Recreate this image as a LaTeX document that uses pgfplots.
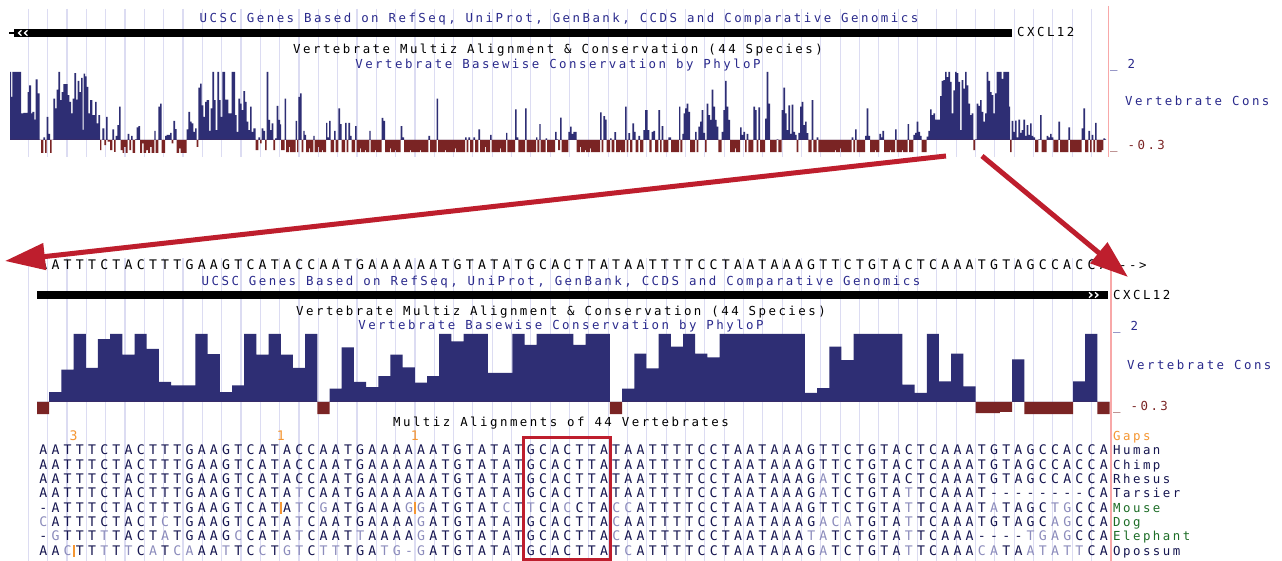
\documentclass[border=0pt]{standalone}
\usepackage{pgfplots}
\pgfplotsset{compat=1.18}
\usepackage{pgfplotstable}
\usepackage{fontspec}
\usetikzlibrary{arrows.meta}
\setmainfont{DejaVu Sans}
\newfontfamily\ucsc[LetterSpace=20]{DejaVu Sans Mono}
\newfontfamily\ucscm{DejaVu Sans Mono}
\newcommand\uf{\fontsize{12.4bp}{14bp}\ucsc}
\newcommand\rf{\fontsize{13.2bp}{14bp}\ucscm}
\definecolor{ucscblue}{RGB}{42,42,140}
\definecolor{barblue}{RGB}{46,46,116}
\definecolor{barbrown}{RGB}{122,36,36}
\definecolor{gridc}{RGB}{220,220,242}
\definecolor{pinkc}{RGB}{248,168,168}
\definecolor{arrowred}{RGB}{190,30,45}
\definecolor{gapor}{RGB}{245,150,50}
\definecolor{greenl}{RGB}{30,110,40}
\definecolor{rowc}{RGB}{22,22,80}
\definecolor{mism}{RGB}{140,140,188}

\makeatletter
\newlength\cw \setlength\cw{12.19bp}
\def\seqrow#1{\seq@i#1\relax}
\def\seq@i#1{\ifx#1\relax\else\seq@c#1\expandafter\seq@i\fi}
\def\seq@c#1{%
  \ifx#1|\makebox[0pt]{\textcolor{gapor}{\rule[-1.5bp]{1.8bp}{11.5bp}}}%
  \else\ifx#1_\makebox[\cw]{\textcolor{mism}{-}}%
  \else\ifnum`#1>96 \makebox[\cw]{\textcolor{mism}{\uppercase{#1}}}%
  \else\makebox[\cw]{#1}\fi\fi\fi}
\makeatother

\pgfplotstableread{
x v
10.0 2.0
11.0 1.27
12.3 2.0
21.0 0.78
23.3 0.80
27.7 1.41
29.0 1.61
31.0 0.78
32.3 0.83
34.3 0.60
35.7 1.78
37.7 1.37
39.7 0
41.0 -0.38
43.3 0.08
45.0 -0.38
46.7 0.68
48.3 0.18
50.0 -0.38
51.7 0
53.3 1.22
55.0 0.93
56.7 1.48
58.3 2.0
60.0 1.17
61.7 1.41
63.3 1.64
67.7 1.32
69.3 1.12
71.0 0.78
72.7 1.22
74.3 1.97
76.0 1.19
77.7 1.74
79.3 1.41
81.0 1.83
82.7 0.3
83.7 1.95
85.0 1.87
86.7 1.56
88.3 0.78
90.0 1.17
92.3 0.73
95.0 1.12
96.7 0.49
98.3 0.73
100.0 -0.3
101.3 0
102.3 0.34
104.3 -0.15
106.0 0.68
107.7 -0.05
110.0 -0.3
112.3 0.31
114.0 -0.35
115.7 0.12
117.3 0.44
119.0 0.98
120.7 -0.3
122.5 -0.38
124 -0.2
125.7 -0.38
127.7 0.18
129.3 -0.3
131.0 0.12
132.7 -0.38
135.0 0.02
136.7 0.37
138.3 0.41
140.0 -0.38
142 -0.1
143.5 -0.38
146 -0.3
148 -0.38
150 -0.2
151.5 -0.38
154.3 0.27
155.7 -0.38
158.3 0.98
160.0 1.07
161.7 -0.38
165.0 0.12
166.7 0.15
170.0 0.21
171.7 -0.1
173.3 0.56
175.0 0.32
176.7 -0.38
179 -0.25
180.5 -0.38
186.7 0.31
188.3 0.83
190.0 0.54
191.7 0.49
193.3 0.24
195.0 0.34
196.7 -0.2
198.3 1.54
200.0 1.66
201.7 1.02
203.3 0.68
205.0 1.12
206.7 1.17
209.0 0.27
210.7 0.93
212.3 2.0
214.0 1.17
215.7 0.29
217.3 2.0
219.0 1.17
220.7 0.68
222.3 2.0
225.0 1.19
228.3 0.78
231.7 2.0
235.0 0.73
236.7 0.24
238.3 1.22
240.0 1.07
241.7 0.88
243.3 1.44
245.0 1.12
246.7 0.54
248.3 0.29
250.0 0.98
251.7 0.24
253.3 0.34
255.7 -0.3
258.3 0.08
260.0 -0.1
261.7 0.34
263.3 0.27
265.0 -0.3
266.7 2.0
268.3 0.59
270.0 0.29
271.7 0.49
273.3 -0.3
275.0 0.05
276.7 1.0
278.3 0.59
280 0.46
281 -0.3
284.7 1.22
286 -0.36
289 -0.2
290 -0.36
295.7 0.56
297 -0.36
298.3 1.27
300 1.37
301.7 -0.36
303.3 0.27
304.7 0.15
306 -0.36
309 -0.25
310 -0.36
313.3 0.12
314.7 -0.36
318 -0.2
319 -0.36
322 -0.3
323 -0.36
326 0.5
327.3 0.08
329 0.56
330.7 -0.36
334 0.27
335.7 -0.36
338.3 0.93
340 0.47
341.7 -0.36
345 0.5
346.7 -0.36
348.3 0.5
350 0.12
351.7 -0.36
355 0.41
356.7 -0.36
360 -0.25
361 -0.36
365 -0.3
366 -0.36
369.3 0.27
370.7 -0.36
375 -0.3
376 -0.36
381.7 0.65
383.3 0.56
385 -0.36
390 -0.25
391 -0.36
395 -0.3
396 -0.36
400.7 0.41
402.3 0.08
404 -0.36
410 -0.3
411 -0.36
420 -0.3
421 -0.36
428.3 0.12
430 -0.36
436.7 1.22
438 -0.36
445 -0.3
446 -0.36
455 -0.25
456 -0.36
465 0.08
466.7 -0.36
468.3 0.08
470 -0.36
473.3 0.08
475 -0.36
478.3 0.31
480 -0.36
485 -0.2
486 -0.36
490 0.15
491.7 -0.36
500 -0.25
501 -0.36
506 0.21
507.3 -0.36
515 0.9
516.7 0.08
518.3 -0.36
525 0.93
526.7 -0.36
536 0.08
537.3 -0.36
539.3 0.47
540.7 -0.36
545.7 0.05
547 -0.36
555 0.24
556.7 0.02
558 -0.3
560 0.66
561.7 -0.36
568.3 0.24
570 0.39
571.7 0.18
573.3 0.24
576.7 -0.36
580 -0.2
581 -0.36
585 -0.3
586 -0.36
590 -0.25
591 -0.36
600 0.81
601.7 -0.36
603.3 0.70
605 0.6
606.7 -0.36
610 0.05
611.7 -0.36
614.3 0.23
616 -0.36
620 -0.3
621 -0.36
625 0.98
626.7 -0.36
628.3 0.2
630 -0.36
632.3 0.49
634 0.24
635.7 -0.36
638.3 0.12
640 -0.36
643.3 0.29
645 0.88
647.7 0.29
649.3 -0.36
651.7 0.24
653.3 0.27
655 -0.36
658.3 0.88
660 -0.36
661.7 0.41
663.3 -0.36
668.3 0.08
671 -0.36
679 0.98
680.3 -0.36
682.3 0.18
683.7 0.78
685 0.93
686.7 1.07
688.3 0.83
690 -0.36
695 0.24
696.7 -0.36
698.3 0.39
700 0.54
701.7 0.88
703.3 0.21
705 -0.36
706.7 1.07
708.3 0.73
710 0.59
711.7 1.48
713.3 0.98
715 0.59
716.7 0.39
718.3 -0.36
721.7 0.24
723.3 0.88
725 1.74
726.7 0.98
728.3 0.59
730 -0.36
735 -0.25
736 -0.36
740 0.37
741.7 0.15
743.3 0.24
745 -0.36
746.7 0.18
748.3 -0.36
753.3 0.98
755 0.88
756.7 -0.36
758.3 0.96
760 -0.36
765 0.63
766.7 2.0
768.3 1.07
770 -0.36
776.7 0.02
778.3 -0.36
781.7 0.88
783.3 1.54
785 0.78
786.7 0.29
788.3 1.02
790 0.18
791.7 1.04
793.3 0.24
795 0.15
796.7 -0.36
798.3 0.21
800 0.98
801.7 1.12
803.3 0.44
805 0.54
806.7 0.2
808.3 -0.36
811.7 1.17
813.3 -0.36
816.7 0.08
818.3 -0.36
830 -0.36
835 -0.3
836 -0.36
840 -0.25
841 -0.36
851.7 0.08
853.3 -0.36
855 0.31
856.7 -0.36
865 0.12
866.7 0.93
868.3 0.12
870 -0.36
875 -0.3
876 -0.36
879.3 0.18
881 0.08
882.3 0.27
884 -0.36
890 -0.3
891 -0.36
895 0.31
896.7 -0.36
902 -0.3
903 -0.36
907.5 0.47
909 -0.36
913.3 0.15
915 0.21
916.7 0.54
918.3 0.24
920 0.12
921.7 -0.36
926.7 0.1
928.3 0.27
930 0.9
931.7 0.73
933.3 0.78
935 0.6
940 1.29
941.7 1.74
943.3 1.76
945 2.0
946.7 1.85
948.3 2.0
950 1.71
951.7 0.78
953.3 1.46
955 2.0
956.7 1.97
958.3 1.71
960 0.29
961.7 1.76
963.3 1.51
965 2.0
966.7 1.61
968.3 1.07
970 0.73
971.7 0.78
973.3 -0.3
975 0.02
976.7 1.07
978.3 1.0
980 1.17
981.7 0.83
983.3 0.54
985 0.78
986.7 2.0
988.3 1.74
990 1.41
991.7 1.32
993.3 0.78
995 1.37
996.7 2.0
1001.7 1.8
1003.3 2.0
1009 0.98
1010 -0.36
1011.7 0.56
1013.3 0.24
1015 0.57
1016.7 0.08
1018.3 0.6
1020 0.21
1021.7 0.29
1023.3 0.6
1025 0.12
1026.7 0.44
1028.3 0.15
1030 0.49
1031.7 0.12
1033.3 0.08
1035 -0.36
1038.3 0.02
1040 0.73
1041.7 -0.36
1046.7 0.12
1048.3 0.08
1050 0.18
1051.7 0.08
1053.3 -0.36
1058.3 0.54
1060 -0.36
1068.3 0.37
1070 -0.36
1081.7 0.34
1083.3 0.93
1085 -0.36
1088.3 0.27
1090 -0.36
1091.7 0.15
1093.3 -0.36
1095 0.5
1096.7 -0.36
1101.7 -0.3
1103.3 0.05
1105 0.02
1106 0
}\toptab

\pgfplotstableread{
x v
0 -0.36
1 0.29
2 0.95
3 2.0
4 1.0
5 1.85
6 2.0
7 1.39
8 2.0
9 1.56
10 0.59
11 0.49
12 0.49
13 2.0
14 1.41
15 0.29
16 0.49
17 2.0
18 1.39
19 2.0
20 1.39
21 1.0
22 2.0
23 -0.36
24 0.39
25 1.61
26 0.59
27 0.44
28 0.76
29 1.39
30 1.02
31 0.57
32 0.76
33 2.0
34 1.78
35 2.0
36 2.0
37 0.86
38 0.86
39 2.0
40 1.68
41 2.0
42 2.0
43 2.0
44 1.68
45 2.0
46 2.0
47 -0.36
48 0.39
49 1.42
50 0.99
51 2.0
52 1.63
53 2.0
54 1.42
55 1.31
56 2.0
57 2.0
58 2.0
59 2.0
60 2.0
61 2.0
62 2.0
63 0.27
64 0.41
65 1.63
66 1.23
67 2.0
68 2.0
69 2.0
70 2.0
71 0.51
72 0.27
73 2.0
74 0.61
75 1.42
76 0.46
77 -0.33
78 -0.33
79 -0.29
80 1.25
81 -0.36
82 -0.36
83 -0.36
84 -0.36
85 0.61
86 2.0
87 -0.36
88 0
}\bottab

\tikzset{pix/.style={x=1bp,y=-1bp,shift={(0,561bp)}},
  t/.style={inner sep=0,anchor=base,font=\uf},
  tl/.style={inner sep=0,anchor=base west,font=\uf}}

\begin{document}
\begin{tikzpicture}
% background, guide lines
\begin{scope}[pix]
\fill[white] (0,0) rectangle (1282,561);
\foreach \k in {0,...,55}{
  \draw[gridc,line width=1.2bp] ({28.3+19.33*\k},9) -- ({28.3+19.33*\k},157);
  \draw[gridc,line width=1.2bp] ({28.3+19.33*\k},258) -- ({28.3+19.33*\k},561);
}
\draw[pinkc,line width=1.2bp] (1108.5,6) -- (1108.5,157);
\draw[pinkc,line width=1.2bp] (1111,258) -- (1111,561);
\end{scope}

% top conservation track
\begin{axis}[at={(0bp,407.4bp)},anchor=south west,scale only axis,
  width=1282bp,height=81.6bp,xmin=0,xmax=1282,ymin=-0.4,ymax=2,
  hide axis,clip=false]
\addplot[const plot,fill=barblue,draw=none] table[x=x,y expr={max(\thisrow{v},0)}]{\toptab} \closedcycle;
\addplot[const plot,fill=barbrown,draw=none] table[x=x,y expr={min(\thisrow{v},0)}]{\toptab} \closedcycle;
\end{axis}

% bottom conservation track (one column per base)
\begin{axis}[at={(37bp,145.4bp)},anchor=south west,scale only axis,
  width=1072.7bp,height=81.6bp,xmin=0,xmax=88,ymin=-0.4,ymax=2,
  hide axis,clip=false]
\addplot[const plot,fill=barblue,draw=none] table[x=x,y expr={max(\thisrow{v},0)}]{\bottab} \closedcycle;
\addplot[const plot,fill=barbrown,draw=none] table[x=x,y expr={min(\thisrow{v},0)}]{\bottab} \closedcycle;
\end{axis}

\begin{scope}[pix]
% ---- top panel
\node[t,text=ucscblue] at (559,22.7) {UCSC Genes Based on RefSeq, UniProt, GenBank, CCDS and Comparative Genomics};
\fill[black] (9,31.8) rectangle (15,34.2);
\fill[black] (14,29) rectangle (1012,37);
\draw[white,line width=1.3bp] (21.5,30.3) -- (18.5,33) -- (21.5,35.7);
\draw[white,line width=1.3bp] (27.5,30.3) -- (24.5,33) -- (27.5,35.7);
\node[tl] at (1017,36.7) {CXCL12};
\node[t] at (558,54) {Vertebrate Multiz Alignment \& Conservation (44 Species)};
\node[t,text=ucscblue] at (558,68.3) {Vertebrate Basewise Conservation by PhyloP};
\node[tl,text=ucscblue] at (1110,68.3) {\_ 2};
\node[tl,text=ucscblue] at (1125,106) {Vertebrate Cons};
\node[tl,text=barbrown] at (1110,149.3) {\_ -0.3};

% ---- bottom panel
\node[tl,font=\rf] at (37,270) {\seqrow{AATTTCTACTTTGAAGTCATACCAATGAAAAAATGTATATGCACTTATAATTTTCCTAATAAAGTTCTGTACTCAAATGTAGCCACCA}};
\node[tl] at (1119,270) {-{}->};
\node[t,text=ucscblue] at (561,286) {UCSC Genes Based on RefSeq, UniProt, GenBank, CCDS and Comparative Genomics};
\fill[black] (37,291) rectangle (1108,299);
\draw[white,line width=1.3bp] (1089,292.3) -- (1092,295) -- (1089,297.7);
\draw[white,line width=1.3bp] (1095,292.3) -- (1098,295) -- (1095,297.7);
\node[tl] at (1113,299.3) {CXCL12};
\node[t] at (561,316) {Vertebrate Multiz Alignment \& Conservation (44 Species)};
\node[t,text=ucscblue] at (561,330) {Vertebrate Basewise Conservation by PhyloP};
\node[tl,text=ucscblue] at (1113,330.7) {\_ 2};
\node[tl,text=ucscblue] at (1127,369.3) {Vertebrate Cons};
\node[tl,text=barbrown] at (1113,410.7) {\_ -0.3};
\node[t] at (561,427) {Multiz Alignments of 44 Vertebrates};

% gaps row
\node[t,text=gapor,font=\rf] at (73.6,440.5) {3};
\node[t,text=gapor,font=\rf] at (280.8,440.5) {1};
\node[t,text=gapor,font=\rf] at (414.9,440.5) {1};

% alignment rows
\begin{scope}[every node/.style={inner sep=0,anchor=base west,font=\rf,text=rowc}]
\node at (37,455.0) {\seqrow{AATTTCTACTTTGAAGTCATACCAATGAAAAAATGTATATGCACTTATAATTTTCCTAATAAAGTTCTGTACTCAAATGTAGCCACCA}};
\node at (37,469.3) {\seqrow{AATTTCTACTTTGAAGTCATACCAATGAAAAAATGTATATGCACTTATAATTTTCCTAATAAAGTTCTGTACTCAAATGTAGCCACCA}};
\node at (37,483.6) {\seqrow{AATTTCTACTTTGAAGTCATACCAATGAAAAAATGTATATGCACTTATAATTTTCCTAATAAAGaTCTGTACTCAAATGTAGCCACCA}};
\node at (37,497.9) {\seqrow{AATTTCTACTTTGAAGTCATAtCAATGAAAAAATGTATATGCACTTATAATTTTCCTAATAAAGaTCTGTAtTCAAAT--------CA}};
\node at (37,512.2) {\seqrow{-ATTTCTACTTTGAAGTCAT|AtCgATGAAAg|gATGTATcTtCAcCTAccATTTTCCTAATAAAGTTCTGTAtTCAAATaTAGCtgCCA}};
\node at (37,526.5) {\seqrow{cATTTCTACTcTGAAGTCATAtCAATGAAAAgATGTATATGCACTTAcAATTTTCCTAATAAAGacaTGTAtTCAAATGTAGCagCCA}};
\node at (37,540.8) {\seqrow{-gTTTtTACTaTGAAGcCATAtCAATtAAAAgATGTATATGCACTTAcAATTTTCCTAATAAAtaTCTGTAtTCAAA----tgagCCA}};
\node at (37,555.1) {\seqrow{AAc|TTtTtCaTcaAAtTCcTgtCttTGAtg_gATGTATATGCACTTATcATTTTCCTAATAAAGaTCTGTAtTCAAAcaTAatattCA}};
\end{scope}

% species labels
\node[tl,text=gapor] at (1113,440.5) {Gaps};
\node[tl,text=rowc] at (1113,455.0) {Human};
\node[tl,text=rowc] at (1113,469.3) {Chimp};
\node[tl,text=rowc] at (1113,483.6) {Rhesus};
\node[tl,text=rowc] at (1113,497.9) {Tarsier};
\node[tl,text=greenl] at (1113,512.2) {Mouse};
\node[tl,text=greenl] at (1113,526.5) {Dog};
\node[tl,text=greenl] at (1113,540.8) {Elephant};
\node[tl,text=rowc] at (1113,555.1) {Opossum};

% highlight box
\draw[arrowred,line width=3bp] (523.5,438) rectangle (610,559.5);

% zoom arrows
\draw[arrowred,line width=5bp,-{Triangle[length=40bp,width=26bp]}] (946,156) -- (5,261);
\draw[arrowred,line width=5bp,-{Triangle[length=38bp,width=26bp]}] (982,156) -- (1128,277);
\end{scope}
\pgfresetboundingbox
\path (0,0) rectangle (1282bp,561bp);
\end{tikzpicture}
\end{document}
